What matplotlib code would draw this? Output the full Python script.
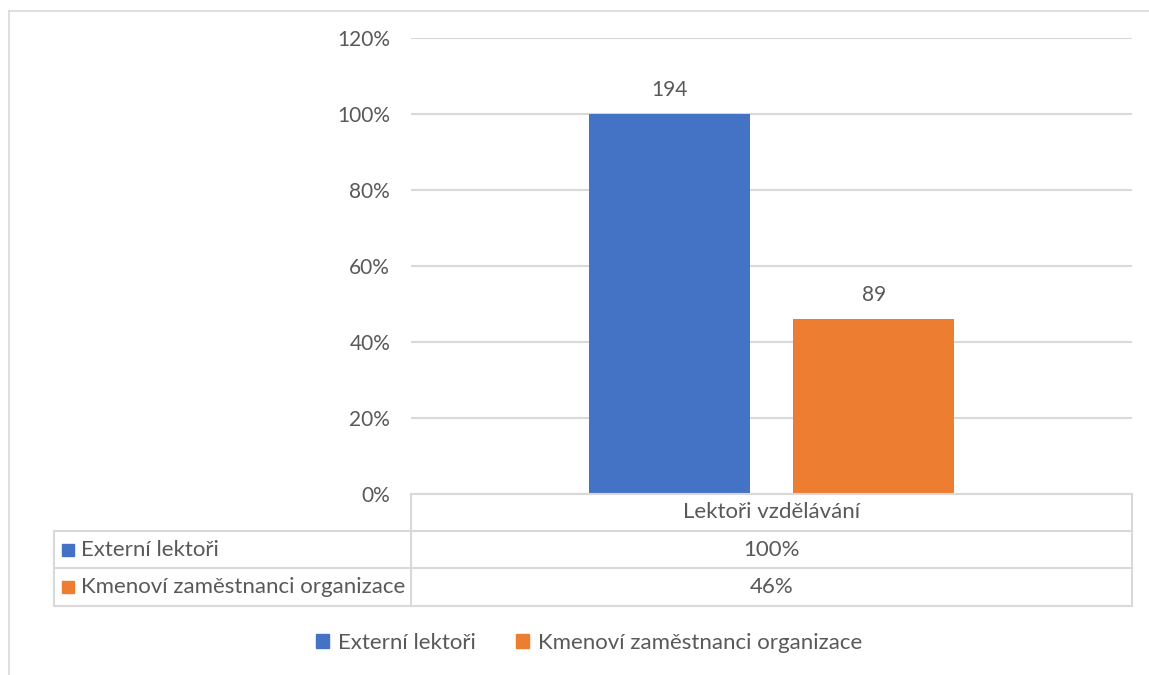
import matplotlib.pyplot as plt
from matplotlib.lines import Line2D
from matplotlib.patches import Rectangle

# data
category = "Lektoři vzdělávání"
series = ["Externí lektoři", "Kmenoví zaměstnanci organizace"]
shares = [1.00, 0.46]
counts = [194, 89]
colors = ["#4472C4", "#ED7D31"]
yticks = [0, 0.2, 0.4, 0.6, 0.8, 1.0, 1.2]

W, H = 1149, 675
plt.rcParams['font.family'] = ['Lato', 'DejaVu Sans']
txt = "#595959"
grid = "#D9D9D9"
fs = 15
fs_tab = 16


def fx(x):
    return x / W


def fy(y):
    return 1 - y / H


fig = plt.figure(figsize=(W / 100, H / 100), dpi=100)

# plot area
left, right, top, bottom = 411, 1132, 38, 494
ax = fig.add_axes([fx(left), fy(bottom), (right - left) / W, (bottom - top) / H])
ax.set_xlim(0, 1)
ax.set_ylim(0, 1.2)
for s in ax.spines.values():
    s.set_visible(False)
ax.set_yticks(yticks)
ax.set_yticklabels([f"{int(round(t * 100))}%" for t in yticks])
ax.tick_params(axis='y', length=0, pad=15, labelsize=fs, labelcolor=txt)
ax.set_xticks([])
ax.yaxis.grid(True, color=grid, lw=1.5)
ax.set_axisbelow(True)

w = 0.223
gap = 0.061
xs = [0.5 - (w + gap) / 2, 0.5 + (w + gap) / 2]
for x, v, c, n in zip(xs, shares, colors, counts):
    ax.bar(x, v, width=w, color=c, zorder=3)
    ax.annotate(str(n), (x, v), xytext=(0, 14), textcoords='offset pixels',
                ha='center', va='bottom', fontsize=fs, color=txt)

# outer chart frame
fig.add_artist(Line2D([fx(8.5), fx(8.5)], [fy(10.5), 0], color=grid, lw=1.2))
fig.add_artist(Line2D([fx(8.5), 1], [fy(10.5), fy(10.5)], color=grid, lw=1.2))

# data table
tl, rows = 54, [494, 531, 568, 606]
def hline(x0, x1, y):
    fig.add_artist(Line2D([fx(x0), fx(x1)], [fy(y), fy(y)], color=grid, lw=1.5))
def vline(x, y0, y1):
    fig.add_artist(Line2D([fx(x), fx(x)], [fy(y0), fy(y1)], color=grid, lw=1.5))

hline(left, right, rows[0])
for y in rows[1:]:
    hline(tl, right, y)
vline(tl, rows[1], rows[3])
vline(left, rows[0], rows[3])
vline(right, rows[0], rows[3])

cx = (left + right) / 2
fig.text(fx(cx), fy((rows[0] + rows[1]) / 2), category, ha='center', va='center',
         fontsize=fs_tab, color=txt)
for i, (name, v, c) in enumerate(zip(series, shares, colors)):
    yc = (rows[i + 1] + rows[i + 2]) / 2
    fig.add_artist(Rectangle((fx(62), fy(yc + 6)), 12 / W, 12 / H, color=c))
    fig.text(fx(81), fy(yc), name, ha='left', va='center', fontsize=fs_tab, color=txt)
    fig.text(fx(cx), fy(yc), f"{int(round(v * 100))}%", ha='center', va='center',
             fontsize=fs_tab, color=txt)

# legend
handles = [Rectangle((0, 0), 1, 1, color=c) for c in colors]
fig.legend(handles, series, loc='center', bbox_to_anchor=(fx(589), fy(643)),
           ncol=2, frameon=False, fontsize=fs_tab, labelcolor=txt,
           handlelength=0.6, handleheight=0.6, handletextpad=0.4, columnspacing=1.8)

plt.savefig("out.png", dpi=100)
